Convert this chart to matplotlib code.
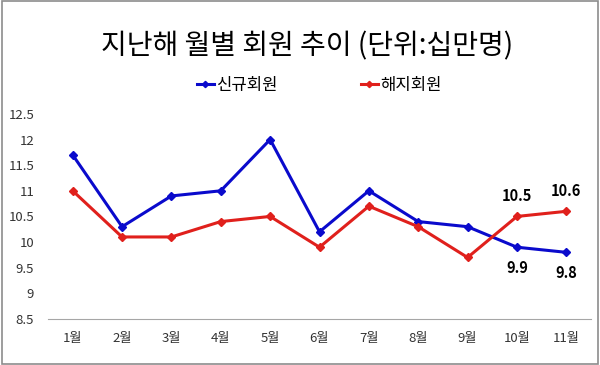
import matplotlib
import matplotlib.pyplot as plt
from matplotlib.patches import Rectangle

matplotlib.use('agg')

plt.rcParams['font.family'] = ['Noto Sans CJK KR', 'DejaVu Sans']

months = ['1월', '2월', '3월', '4월', '5월', '6월', '7월', '8월', '9월', '10월', '11월']
new_members = [11.7, 10.3, 10.9, 11.0, 12.0, 10.2, 11.0, 10.4, 10.3, 9.9, 9.8]
cancelled = [11.0, 10.1, 10.1, 10.4, 10.5, 9.9, 10.7, 10.3, 9.7, 10.5, 10.6]
y_ticks = [8.5, 9, 9.5, 10, 10.5, 11, 11.5, 12, 12.5]
y_tick_labels = ['8.5', '9', '9.5', '10', '10.5', '11', '11.5', '12', '12.5']

BLUE = '#0a0acc'
RED = '#e0201c'


def main():
    fig = plt.figure(figsize=(6, 3.65), dpi=100)
    fig.patches.append(Rectangle((0.003, 0.004), 0.994, 0.992, transform=fig.transFigure,
                                 fill=False, edgecolor='#8c8c8c', linewidth=1.2))
    ax = fig.add_axes([0.08, 0.126, 0.905, 0.562])

    x = list(range(len(months)))
    ax.plot(x, new_members, color=BLUE, lw=2.2, marker='D', ms=4, label='신규회원')
    ax.plot(x, cancelled, color=RED, lw=2.2, marker='D', ms=4, label='해지회원')

    for i in (9, 10):
        ax.annotate(f'{cancelled[i]}', (i, cancelled[i]), xytext=(0, 9), textcoords='offset points',
                    ha='center', va='bottom', fontsize=10.5, fontweight='bold')
        ax.annotate(f'{new_members[i]}', (i, new_members[i]), xytext=(0, -9), textcoords='offset points',
                    ha='center', va='top', fontsize=10.5, fontweight='bold')

    ax.set_xlim(-0.5, len(months) - 0.5)
    ax.set_ylim(8.5, 12.5)
    ax.set_xticks(x)
    ax.set_xticklabels(months, fontsize=9.5, color='#333333')
    ax.set_yticks(y_ticks)
    ax.set_yticklabels(y_tick_labels, fontsize=9.5, color='#333333')
    ax.tick_params(length=0, axis='y', pad=10)
    ax.tick_params(length=0, axis='x', pad=9)
    for side in ('top', 'right', 'left'):
        ax.spines[side].set_visible(False)
    ax.spines['bottom'].set_color('#a6a6a6')

    fig.text(0.512, 0.874, '지난해 월별 회원 추이 (단위:십만명)', ha='center', va='center', fontsize=20.2)
    fig.legend(loc='center', bbox_to_anchor=(0.532, 0.765), ncol=2, frameon=False, fontsize=12,
               handlelength=1.0, handletextpad=0.15, columnspacing=5.0, markerscale=0.8)

    fig.savefig('out.png', dpi=100)
    plt.close(fig)


if __name__ == '__main__':
    main()
